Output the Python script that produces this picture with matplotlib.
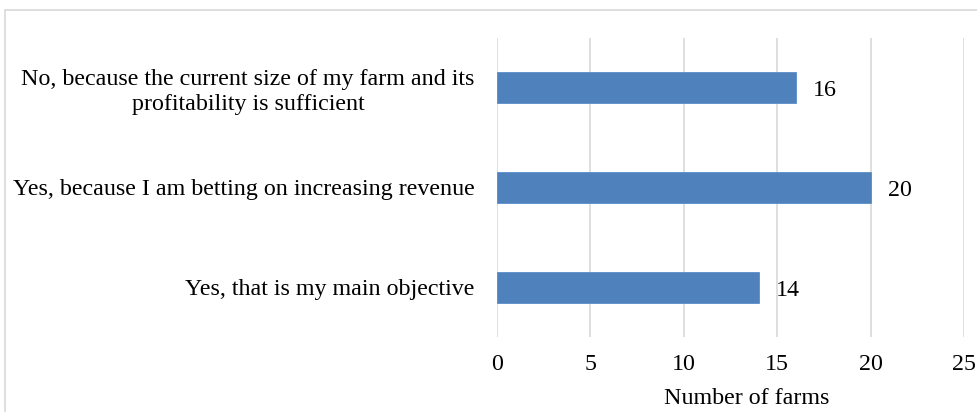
import matplotlib
matplotlib.use("Agg")
import matplotlib.pyplot as plt
from matplotlib.patches import Rectangle

categories = [
    "Yes, that is my main objective",
    "Yes, because I am betting on increasing revenue",
    "No, because the current size of my farm and its\nprofitability is sufficient",
]
values = [14, 20, 16]
xticks = [0, 5, 10, 15, 20, 25]
xlabel = "Number of farms"

plt.rcParams['font.family'] = ['Liberation Serif', 'DejaVu Serif']
FS = 17.3

W, H = 978, 412
fig = plt.figure(figsize=(W / 100, H / 100), dpi=100)
ax = fig.add_axes([497 / W, 1 - 337 / H, (964 - 497) / W, (337 - 38) / H])

# outer border
fig.patches.append(Rectangle((5 / W, -0.1), 1.2, 1 - 10 / H + 0.1, transform=fig.transFigure,
                             fill=False, edgecolor='#d9d9d9', linewidth=1.2))

y = list(range(len(categories)))
bars = ax.barh(y, values, height=0.31, color='#4F81BD', edgecolor='#5B8CC8', linewidth=0.6, zorder=3)
for yi, v in zip(y, values):
    ax.annotate(str(v), xy=(v, yi), xytext=(17, -3), textcoords='offset pixels',
                ha='left', va='center', fontsize=FS, color='black')

ax.set_xlim(0, 25)
ax.set_ylim(-0.5, len(categories) - 0.5)
ax.set_xticks(xticks)
ax.set_xticklabels([str(t) for t in xticks], fontsize=FS)
ax.set_yticks(y)
ax.set_yticklabels(categories, fontsize=FS, multialignment='center')
ax.tick_params(axis='x', length=0, pad=12)
ax.tick_params(axis='y', length=0, pad=16)
ax.grid(axis='x', color='#d9d9d9', linewidth=1.2, zorder=0)
ax.set_axisbelow(True)
for s in ax.spines.values():
    s.set_visible(False)

ax.set_xlabel(xlabel, fontsize=FS)
ax.xaxis.set_label_coords((747 - 497) / (964 - 497), -(398 - 337) / (337 - 38))
ax.xaxis.label.set_va('center')

fig.savefig("out.png", dpi=100)
